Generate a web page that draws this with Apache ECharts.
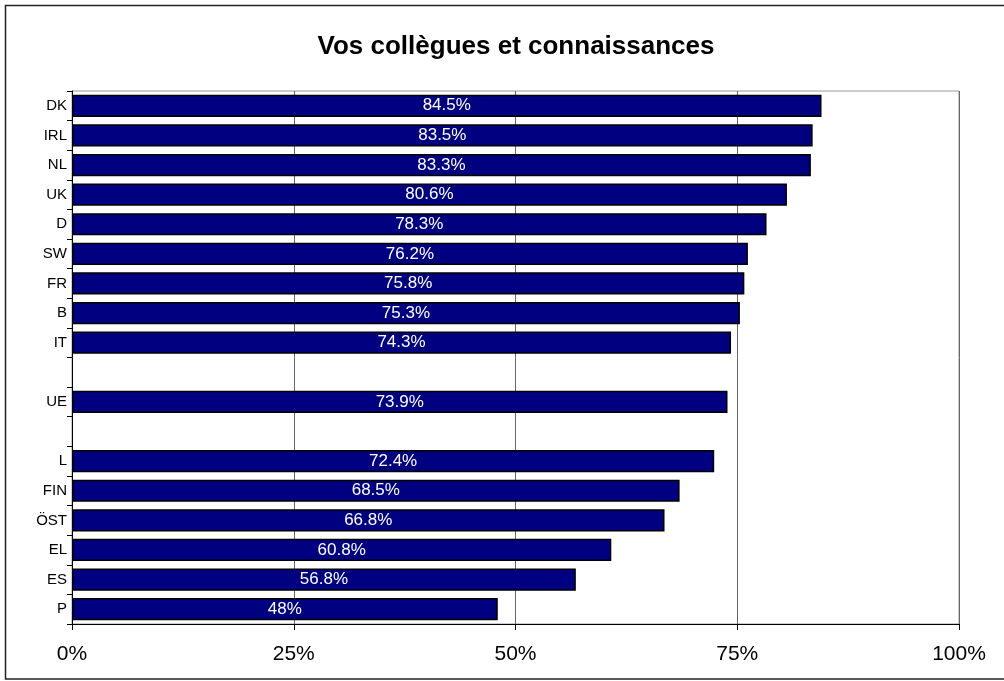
<!DOCTYPE html>
<html><head><meta charset="utf-8">
<script src="https://cdn.jsdelivr.net/npm/echarts@6/dist/echarts.min.js"></script>
<style>html,body{margin:0;padding:0;background:#fff}#c{width:1004px;height:681px}</style>
</head><body><div id="c"></div>
<script>
const categories = ['DK','IRL','NL','UK','D','SW','FR','B','IT','','UE','','L','FIN','ÖST','EL','ES','P'];
const values = [84.5,83.5,83.3,80.6,78.3,76.2,75.8,75.3,74.3,null,73.9,null,72.4,68.5,66.8,60.8,56.8,48];
const valueLabels = ['84.5%','83.5%','83.3%','80.6%','78.3%','76.2%','75.8%','75.3%','74.3%','','73.9%','','72.4%','68.5%','66.8%','60.8%','56.8%','48%'];
const xTicks = [0,25,50,75,100];
const titleText = 'Vos collègues et connaissances';

const chart = echarts.init(document.getElementById('c'));
const F = 'Liberation Sans, Arial, sans-serif';
chart.setOption({
  animation: false,
  backgroundColor: '#fff',
  graphic: [{type:'rect', shape:{x:5.5,y:5.5,width:1005,height:673.5}, style:{fill:null, stroke:'#222', lineWidth:1.5}, silent:true, z:-1}],
  title: {text: titleText, left: 511, top: 29, textAlign: 'center',
    textStyle: {fontFamily: F, fontWeight: 'bold', fontSize: 26, color: '#000'}},
  grid: {left: 72, top: 91, width: 887, height: 533, show: true, borderColor: '#999', borderWidth: 1, containLabel: false},
  xAxis: {type: 'value', min: 0, max: 100, interval: 25,
    axisLine: {show: true, lineStyle: {color: '#000'}},
    axisTick: {show: true, length: 6, lineStyle: {color: '#000'}},
    splitLine: {show: true, lineStyle: {color: '#666', width: 1}},
    axisLabel: {formatter: v => xTicks.includes(v) ? v + '%' : '', fontFamily: F, fontSize: 21, color: '#000', margin: 20}},
  yAxis: {type: 'category', data: categories, inverse: true,
    axisLine: {show: true, lineStyle: {color: '#000'}},
    axisTick: {show: true, length: 5, lineStyle: {color: '#000'}},
    axisLabel: {fontFamily: F, fontSize: 15, color: '#000', margin: 5}},
  series: [{type: 'bar', data: values, barCategoryGap: '25%',
    itemStyle: {color: '#000080', borderColor: '#000', borderWidth: 1.5},
    label: {show: true, position: 'inside', formatter: p => valueLabels[p.dataIndex],
      fontFamily: F, fontSize: 17, color: '#fff'}}]
});
</script></body></html>
